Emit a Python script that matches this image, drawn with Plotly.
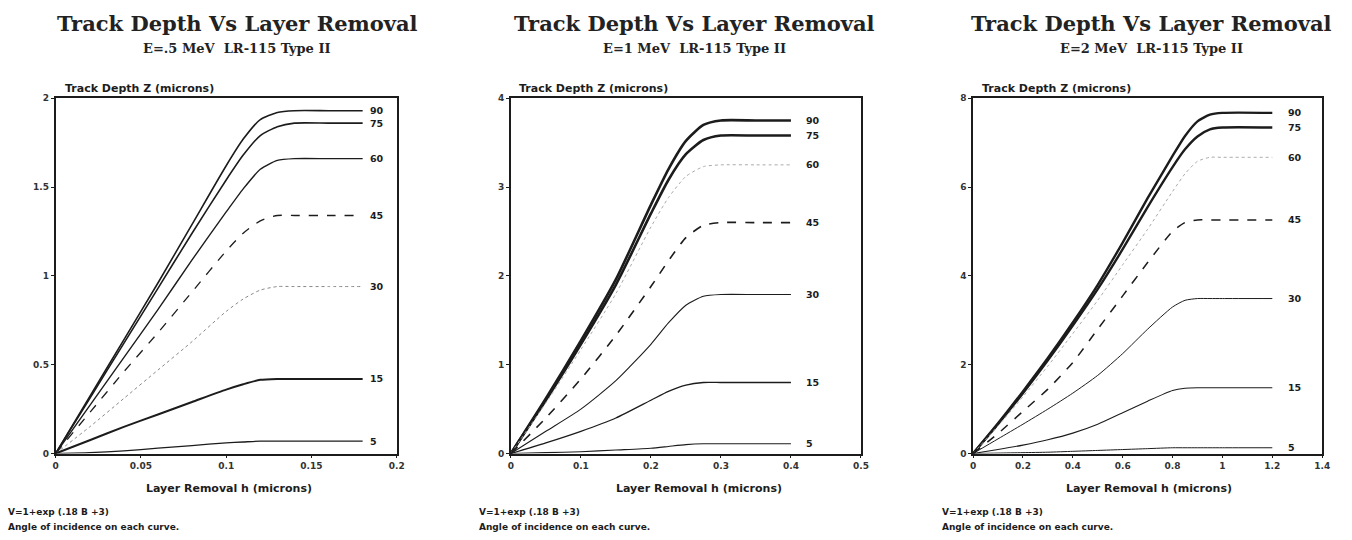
import plotly.graph_objects as go

# ---------------- data ----------------
angles = ["90", "75", "60", "45", "30", "15", "5"]

# Panel 1: E = .5 MeV
h_p1 = [0, 0.02, 0.04, 0.06, 0.08, 0.10, 0.11, 0.12, 0.13, 0.14, 0.16, 0.18]
z_p1_90 = [0, 0.32, 0.64, 0.96, 1.29, 1.62, 1.77, 1.88, 1.92, 1.93, 1.93, 1.93]
z_p1_75 = [0, 0.31, 0.62, 0.93, 1.24, 1.54, 1.68, 1.79, 1.84, 1.86, 1.86, 1.86]
z_p1_60 = [0, 0.27, 0.54, 0.81, 1.09, 1.36, 1.49, 1.60, 1.65, 1.66, 1.66, 1.66]
z_p1_45 = [0, 0.23, 0.46, 0.68, 0.91, 1.14, 1.24, 1.31, 1.34, 1.34, 1.34, 1.34]
z_p1_30 = [0, 0.15, 0.31, 0.47, 0.63, 0.80, 0.87, 0.92, 0.94, 0.94, 0.94, 0.94]
z_p1_15 = [0, 0.075, 0.15, 0.22, 0.29, 0.36, 0.39, 0.415, 0.42, 0.42, 0.42, 0.42]
z_p1_5 = [0, 0.005, 0.015, 0.03, 0.045, 0.06, 0.065, 0.07, 0.07, 0.07, 0.07, 0.07]

# Panel 2: E = 1 MeV
h_p2 = [0, 0.05, 0.10, 0.15, 0.20, 0.225, 0.25, 0.275, 0.30, 0.35, 0.40]
z_p2_90 = [0, 0.62, 1.27, 1.96, 2.80, 3.20, 3.52, 3.70, 3.75, 3.75, 3.75]
z_p2_75 = [0, 0.60, 1.23, 1.90, 2.70, 3.08, 3.37, 3.53, 3.58, 3.58, 3.58]
z_p2_60 = [0, 0.57, 1.17, 1.80, 2.55, 2.88, 3.12, 3.23, 3.25, 3.25, 3.25]
z_p2_45 = [0, 0.40, 0.84, 1.33, 1.88, 2.17, 2.43, 2.57, 2.60, 2.60, 2.60]
z_p2_30 = [0, 0.25, 0.50, 0.82, 1.23, 1.47, 1.67, 1.77, 1.79, 1.79, 1.79]
z_p2_15 = [0, 0.12, 0.25, 0.40, 0.60, 0.70, 0.77, 0.80, 0.80, 0.80, 0.80]
z_p2_5 = [0, 0.01, 0.02, 0.04, 0.06, 0.08, 0.10, 0.11, 0.11, 0.11, 0.11]

# Panel 3: E = 2 MeV
h_p3 = [0, 0.1, 0.2, 0.3, 0.4, 0.5, 0.6, 0.7, 0.8, 0.85, 0.9, 0.95, 1.0, 1.2]
z_p3_90 = [0, 0.68, 1.40, 2.15, 2.95, 3.80, 4.75, 5.75, 6.70, 7.15, 7.48, 7.63, 7.67, 7.67]
z_p3_75 = [0, 0.66, 1.36, 2.10, 2.88, 3.70, 4.60, 5.55, 6.45, 6.85, 7.14, 7.30, 7.34, 7.34]
z_p3_60 = [0, 0.62, 1.28, 1.97, 2.70, 3.45, 4.25, 5.05, 5.90, 6.30, 6.58, 6.67, 6.67, 6.67]
z_p3_45 = [0, 0.45, 0.95, 1.45, 2.05, 2.80, 3.55, 4.30, 5.00, 5.20, 5.26, 5.26, 5.26, 5.26]
z_p3_30 = [0, 0.33, 0.66, 1.00, 1.36, 1.76, 2.25, 2.80, 3.30, 3.45, 3.49, 3.49, 3.49, 3.49]
z_p3_15 = [0, 0.09, 0.19, 0.31, 0.46, 0.66, 0.92, 1.18, 1.42, 1.47, 1.48, 1.48, 1.48, 1.48]
z_p3_5 = [0, 0.01, 0.02, 0.03, 0.05, 0.07, 0.09, 0.11, 0.13, 0.13, 0.13, 0.13, 0.13, 0.13]

# axis ticks
p1_xticks = [0, 0.05, 0.1, 0.15, 0.2]
p1_xtext = ["0", "0.05", "0.1", "0.15", "0.2"]
p1_yticks = [0, 0.5, 1, 1.5, 2]
p1_ytext = ["0", "0.5", "1", "1.5", "2"]
p2_xticks = [0, 0.1, 0.2, 0.3, 0.4, 0.5]
p2_xtext = ["0", "0.1", "0.2", "0.3", "0.4", "0.5"]
p2_yticks = [0, 1, 2, 3, 4]
p2_ytext = ["0", "1", "2", "3", "4"]
p3_xticks = [0, 0.2, 0.4, 0.6, 0.8, 1.0, 1.2, 1.4]
p3_xtext = ["0", "0.2", "0.4", "0.6", "0.8", "1", "1.2", "1.4"]
p3_yticks = [0, 2, 4, 6, 8]
p3_ytext = ["0", "2", "4", "6", "8"]

title_text = "Track Depth Vs Layer Removal"
subtitles = ["E=.5 MeV  LR-115 Type II", "E=1 MeV  LR-115 Type II", "E=2 MeV  LR-115 Type II"]
ylabel_text = "Track Depth Z (microns)"
xlabel_text = "Layer Removal h (microns)"
footer1 = "V=1+exp (.18 B +3)"
footer2 = "Angle of incidence on each curve."

# ---------------- figure ----------------
INK = "#1c1c1c"
panels = [
    dict(h=h_p1, z=[z_p1_90, z_p1_75, z_p1_60, z_p1_45, z_p1_30, z_p1_15, z_p1_5],
         xr=[0, 0.2], yr=[0, 2], xt=p1_xticks, xtt=p1_xtext, yt=p1_yticks, ytt=p1_ytext,
         lab_x=0.183,
         styles=[("solid", 1.6, INK), ("solid", 1.6, INK), ("solid", 1.4, INK), ("dash", 1.3, INK),
                 ("dot", 1.0, "#888888"), ("solid", 2.0, INK), ("solid", 1.3, INK)]),
    dict(h=h_p2, z=[z_p2_90, z_p2_75, z_p2_60, z_p2_45, z_p2_30, z_p2_15, z_p2_5],
         xr=[0, 0.5], yr=[0, 4], xt=p2_xticks, xtt=p2_xtext, yt=p2_yticks, ytt=p2_ytext,
         lab_x=0.418,
         styles=[("solid", 2.6, INK), ("solid", 2.6, INK), ("dot", 1.0, "#aaaaaa"), ("dash", 1.6, INK),
                 ("solid", 1.1, INK), ("solid", 1.3, INK), ("solid", 1.1, INK)]),
    dict(h=h_p3, z=[z_p3_90, z_p3_75, z_p3_60, z_p3_45, z_p3_30, z_p3_15, z_p3_5],
         xr=[0, 1.4], yr=[0, 8], xt=p3_xticks, xtt=p3_xtext, yt=p3_yticks, ytt=p3_ytext,
         lab_x=1.255,
         styles=[("solid", 2.4, INK), ("solid", 2.4, INK), ("dot", 1.0, "#aaaaaa"), ("dash", 1.5, INK),
                 ("solid", 1.0, INK), ("solid", 1.1, INK), ("solid", 1.0, INK)]),
]

W, H = 1352, 540
x_domains = [[53 / W, 397 / W], [512 / W, 865 / W], [978 / W, 1330 / W]]
y_domain = [1 - 457 / H, 1 - 95 / H]
title_cx = [236, 697, 1158]
ylab_x = [60, 518, 985]
xlab_cx = [228, 702, 1155]
foot_x = [3, 478, 945]

fig = go.Figure()
annotations = []
tick_font = dict(family="DejaVu Sans", size=9, color="#333333", weight="bold")
lab_font = dict(family="DejaVu Sans", size=9.5, color=INK, weight="bold")

for i, p in enumerate(panels):
    sfx = "" if i == 0 else str(i + 1)
    for ang, zz, (dash, w, col) in zip(angles, p["z"], p["styles"]):
        fig.add_trace(go.Scatter(x=p["h"], y=zz, mode="lines", name=ang,
                                 line=dict(color=col, width=w, dash=dash, shape="spline", smoothing=0.6),
                                 xaxis="x" + sfx, yaxis="y" + sfx, showlegend=False))
        annotations.append(dict(x=p["lab_x"], y=zz[-1], xref="x" + sfx, yref="y" + sfx,
                                text=ang, showarrow=False, xanchor="left", yanchor="middle",
                                font=lab_font))
    axis_common = dict(showline=True, linecolor=INK, linewidth=1.6, mirror=True, showgrid=False,
                       zeroline=False, ticks="outside", ticklen=3, tickcolor=INK,
                       tickfont=tick_font)
    fig.update_layout(**{
        "xaxis" + sfx: dict(domain=x_domains[i], range=p["xr"], anchor="y" + sfx,
                            tickvals=p["xt"], ticktext=p["xtt"], **axis_common),
        "yaxis" + sfx: dict(domain=y_domain, range=p["yr"], anchor="x" + sfx,
                            tickvals=p["yt"], ticktext=p["ytt"], **axis_common),
    })
    annotations += [
        dict(x=title_cx[i] / W, y=1 - 19 / H, xref="paper", yref="paper", text=title_text,
             showarrow=False, xanchor="center", yanchor="middle",
             font=dict(family="DejaVu Serif", size=21, color="#222222", weight="bold")),
        dict(x=title_cx[i] / W, y=1 - 44 / H, xref="paper", yref="paper", text=subtitles[i],
             showarrow=False, xanchor="center", yanchor="middle",
             font=dict(family="DejaVu Serif", size=13, color="#222222", weight="bold")),
        dict(x=ylab_x[i] / W, y=1 - 85 / H, xref="paper", yref="paper", text=ylabel_text,
             showarrow=False, xanchor="left", yanchor="middle",
             font=dict(family="DejaVu Sans", size=11, color=INK, weight="bold")),
        dict(x=xlab_cx[i] / W, y=1 - 493 / H, xref="paper", yref="paper", text=xlabel_text,
             showarrow=False, xanchor="center", yanchor="middle",
             font=dict(family="DejaVu Sans", size=11, color=INK, weight="bold")),
        dict(x=foot_x[i] / W, y=1 - 517 / H, xref="paper", yref="paper", text=footer1,
             showarrow=False, xanchor="left", yanchor="middle",
             font=dict(family="DejaVu Sans", size=9, color=INK, weight="bold")),
        dict(x=foot_x[i] / W, y=1 - 532 / H, xref="paper", yref="paper", text=footer2,
             showarrow=False, xanchor="left", yanchor="middle",
             font=dict(family="DejaVu Sans", size=9, color=INK, weight="bold")),
    ]

fig.update_layout(width=W, height=H, margin=dict(l=0, r=0, t=0, b=0),
                  paper_bgcolor="white", plot_bgcolor="white",
                  annotations=annotations, showlegend=False)

fig.write_html("out.html")
